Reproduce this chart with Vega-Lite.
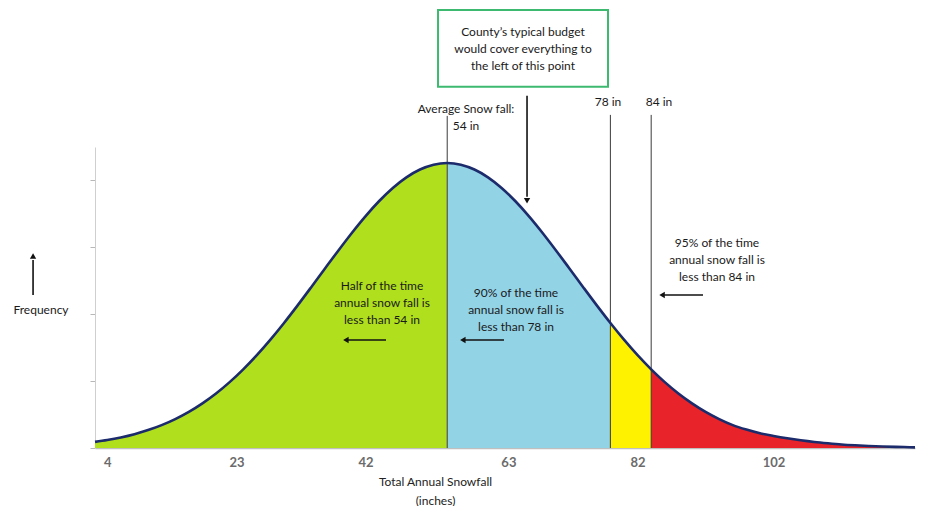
{
  "$schema": "https://vega.github.io/schema/vega-lite/v6.json",
  "width": 820,
  "height": 301,
  "autosize": "none",
  "padding": {"left": 95, "top": 147, "right": 13, "bottom": 58},
  "background": "white",
  "config": {"view": {"stroke": null}},
  "datasets": {
    "curve": [
      {"v": 2.2, "f": 0.184}, {"v": 4, "f": 0.239}, {"v": 6, "f": 0.316}, {"v": 8, "f": 0.413},
      {"v": 10, "f": 0.535}, {"v": 12, "f": 0.684}, {"v": 14, "f": 0.865}, {"v": 16, "f": 1.081},
      {"v": 18, "f": 1.336}, {"v": 20, "f": 1.631}, {"v": 22, "f": 1.97}, {"v": 24, "f": 2.353},
      {"v": 26, "f": 2.777}, {"v": 28, "f": 3.241}, {"v": 30, "f": 3.739}, {"v": 32, "f": 4.265},
      {"v": 34, "f": 4.809}, {"v": 36, "f": 5.361}, {"v": 38, "f": 5.908}, {"v": 40, "f": 6.438},
      {"v": 42, "f": 6.935}, {"v": 44, "f": 7.385}, {"v": 46, "f": 7.775}, {"v": 48, "f": 8.093},
      {"v": 50, "f": 8.327}, {"v": 52, "f": 8.471}, {"v": 54, "f": 8.52}, {"v": 56, "f": 8.471},
      {"v": 58, "f": 8.327}, {"v": 60, "f": 8.093}, {"v": 62, "f": 7.775}, {"v": 64, "f": 7.385},
      {"v": 66, "f": 6.935}, {"v": 68, "f": 6.438}, {"v": 70, "f": 5.908}, {"v": 72, "f": 5.361},
      {"v": 74, "f": 4.809}, {"v": 76, "f": 4.265}, {"v": 78, "f": 3.739}, {"v": 80, "f": 3.241},
      {"v": 82, "f": 2.777}, {"v": 84, "f": 2.353}, {"v": 86, "f": 1.97}, {"v": 88, "f": 1.631},
      {"v": 90, "f": 1.336}, {"v": 92, "f": 1.081}, {"v": 94, "f": 0.865}, {"v": 96, "f": 0.684},
      {"v": 98, "f": 0.55}, {"v": 100, "f": 0.44}, {"v": 102, "f": 0.36}, {"v": 104, "f": 0.29},
      {"v": 106, "f": 0.23}, {"v": 108, "f": 0.18}, {"v": 110, "f": 0.14}, {"v": 112, "f": 0.105},
      {"v": 114, "f": 0.08}, {"v": 116, "f": 0.06}, {"v": 118, "f": 0.045}, {"v": 120, "f": 0.033},
      {"v": 122, "f": 0.024}, {"v": 122.8, "f": 0.02}
    ],
    "vlines": [
      {"v": 54, "f": 0, "f2": 9.93},
      {"v": 78, "f": 0, "f2": 9.96},
      {"v": 84, "f": 0, "f2": 9.96}
    ],
    "box": [
      {"v": 52.65, "v2": 77.65, "f": 10.8, "f2": 13.1}
    ],
    "shafts": [
      {"v": 65.74, "v2": 65.74, "f": 10.53, "f2": 7.51},
      {"v": 45.0, "v2": 39.3, "f": 3.23, "f2": 3.23},
      {"v": 62.35, "v2": 56.6, "f": 3.23, "f2": 3.23},
      {"v": 91.62, "v2": 85.9, "f": 4.575, "f2": 4.575},
      {"v": -6.91, "v2": -6.91, "f": 4.575, "f2": 5.62}
    ],
    "heads": [
      {"v": 65.74, "f": 7.39, "dir": "down"},
      {"v": 39.1, "f": 3.23, "dir": "left"},
      {"v": 56.3, "f": 3.23, "dir": "left"},
      {"v": 85.6, "f": 4.575, "dir": "left"},
      {"v": -6.91, "f": 5.74, "dir": "up"}
    ],
    "labels": [
      {"v": 65.15, "f": 12.44, "text": "County’s typical budget\nwould cover everything to\nthe left of this point"},
      {"v": 56.76, "f": 10.14, "text": "Average Snow fall:\n54 in"},
      {"v": 77.65, "f": 10.35, "text": "78 in"},
      {"v": 85.15, "f": 10.35, "text": "84 in"},
      {"v": 44.41, "f": 4.84, "text": "Half of the time\nannual snow fall is\nless than 54 in"},
      {"v": 64.12, "f": 4.635, "text": "90% of the time\nannual snow fall is\nless than 78 in"},
      {"v": 93.68, "f": 6.13, "text": "95% of the time\nannual snow fall is\nless than 84 in"},
      {"v": -5.74, "f": 4.13, "text": "Frequency"}
    ]
  },
  "layer": [
    {
      "data": {"name": "curve"},
      "transform": [{"filter": "datum.v <= 54"}],
      "mark": {"type": "area", "color": "#b0df1e", "interpolate": "monotone", "opacity": 1},
      "encoding": {
        "x": {
          "field": "v", "type": "quantitative",
          "scale": {"domain": [2.2, 122.8], "nice": false, "zero": false},
          "axis": {
            "values": [4, 23, 42, 63, 82, 102],
            "grid": false, "ticks": false,
            "domainColor": "#bfbfbf", "domainWidth": 1.5,
            "labelFont": "Lato", "labelFontSize": 13, "labelFontWeight": "bold",
            "labelColor": "#6b6b6b", "labelPadding": 8,
            "title": ["Total Annual Snowfall", "(inches)"],
            "titleFont": "Lato", "titleFontSize": 12, "titleFontWeight": "normal",
            "titleColor": "#222222", "titleX": 340, "titleY": 28,
            "titleBaseline": "top", "titleAlign": "center", "titleLineHeight": 19
          }
        },
        "y": {
          "field": "f", "type": "quantitative", "stack": null,
          "scale": {"domain": [0, 9], "nice": false},
          "axis": {
            "values": [0, 1, 2, 3, 4, 5, 6, 7, 8, 9],
            "grid": false, "labels": false, "title": null,
            "domainColor": "#cfcfcf", "tickColor": "#b8b8b8", "tickSize": 5, "tickWidth": 1,
            "tickRound": true
          }
        }
      }
    },
    {
      "data": {"name": "curve"},
      "transform": [{"filter": "datum.v >= 54 && datum.v <= 78"}],
      "mark": {"type": "area", "color": "#93d3e6", "interpolate": "monotone", "opacity": 1},
      "encoding": {
        "x": {"field": "v", "type": "quantitative"},
        "y": {"field": "f", "type": "quantitative", "stack": null}
      }
    },
    {
      "data": {"name": "curve"},
      "transform": [{"filter": "datum.v >= 78 && datum.v <= 84"}],
      "mark": {"type": "area", "color": "#fff200", "interpolate": "monotone", "opacity": 1},
      "encoding": {
        "x": {"field": "v", "type": "quantitative"},
        "y": {"field": "f", "type": "quantitative", "stack": null}
      }
    },
    {
      "data": {"name": "curve"},
      "transform": [{"filter": "datum.v >= 84"}],
      "mark": {"type": "area", "color": "#e8232a", "interpolate": "monotone", "opacity": 1},
      "encoding": {
        "x": {"field": "v", "type": "quantitative"},
        "y": {"field": "f", "type": "quantitative", "stack": null}
      }
    },
    {
      "data": {"name": "vlines"},
      "mark": {"type": "rule", "color": "#3a3a3a", "strokeWidth": 1},
      "encoding": {
        "x": {"field": "v", "type": "quantitative"},
        "y": {"field": "f", "type": "quantitative"},
        "y2": {"field": "f2"}
      }
    },
    {
      "data": {"name": "curve"},
      "mark": {"type": "line", "color": "#1c2b6b", "strokeWidth": 2.6, "interpolate": "monotone"},
      "encoding": {
        "x": {"field": "v", "type": "quantitative"},
        "y": {"field": "f", "type": "quantitative"}
      }
    },
    {
      "data": {"name": "box"},
      "mark": {"type": "rect", "fill": "white", "stroke": "#3dba6f", "strokeWidth": 2},
      "encoding": {
        "x": {"field": "v", "type": "quantitative"},
        "x2": {"field": "v2"},
        "y": {"field": "f", "type": "quantitative"},
        "y2": {"field": "f2"}
      }
    },
    {
      "data": {"name": "shafts"},
      "mark": {"type": "rule", "color": "#111111", "strokeWidth": 1.6},
      "encoding": {
        "x": {"field": "v", "type": "quantitative"},
        "x2": {"field": "v2"},
        "y": {"field": "f", "type": "quantitative"},
        "y2": {"field": "f2"}
      }
    },
    {
      "data": {"name": "heads"},
      "mark": {"type": "point", "filled": true, "color": "#111111", "size": 40, "opacity": 1, "strokeWidth": 0},
      "encoding": {
        "x": {"field": "v", "type": "quantitative"},
        "y": {"field": "f", "type": "quantitative"},
        "shape": {
          "field": "dir", "type": "nominal", "legend": null,
          "scale": {"domain": ["down", "left", "up"], "range": ["triangle-down", "triangle-left", "triangle-up"]}
        }
      }
    },
    {
      "data": {"name": "labels"},
      "mark": {"type": "text", "font": "Lato", "fontSize": 12, "color": "#1a1a1a", "align": "center", "baseline": "middle", "lineBreak": "\n", "lineHeight": 17},
      "encoding": {
        "x": {"field": "v", "type": "quantitative"},
        "y": {"field": "f", "type": "quantitative"},
        "text": {"field": "text", "type": "nominal"}
      }
    }
  ]
}
